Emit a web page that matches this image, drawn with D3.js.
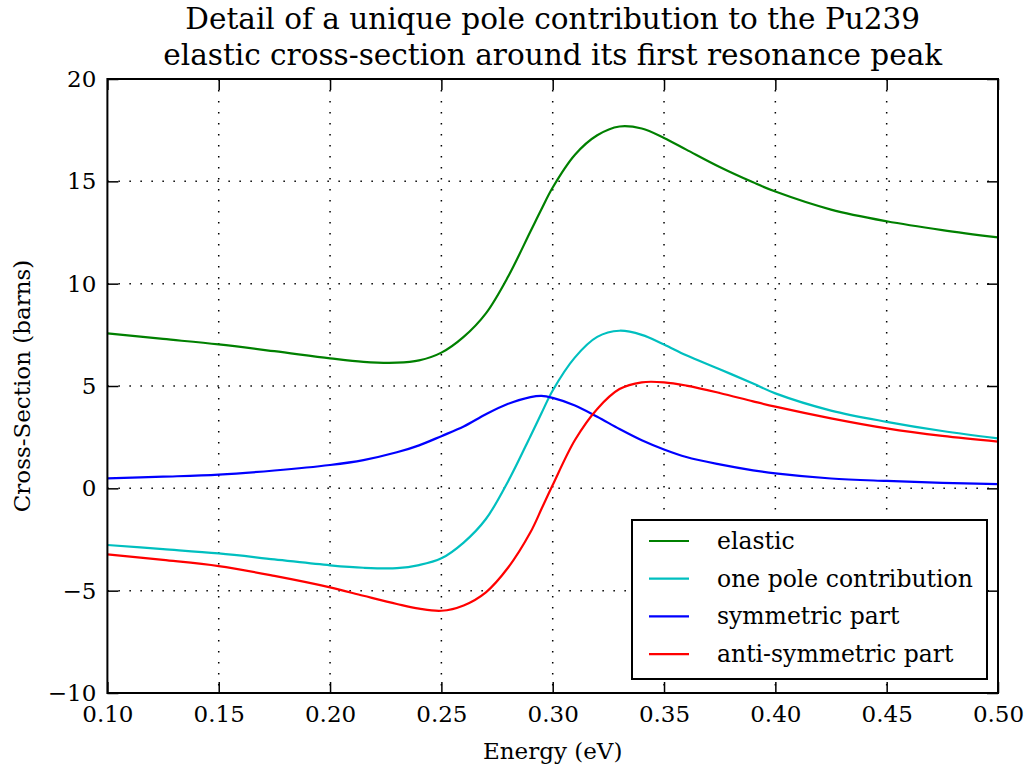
<!DOCTYPE html>
<html>
<head>
<meta charset="utf-8">
<script src="https://cdn.jsdelivr.net/npm/d3@7"></script>
<style>
    body { margin: 0; background: #ffffff; }
    text { font-family: "DejaVu Serif", serif; fill: #000000; }
</style>
</head>
<body>
<div id="chart"></div>
<script>
// Values.
var energy = [0.10, 0.125, 0.15, 0.175, 0.20, 0.215, 0.23, 0.24, 0.25, 0.26,
    0.27, 0.28, 0.29, 0.295, 0.30, 0.31, 0.32, 0.33, 0.34, 0.35, 0.36, 0.375,
    0.39, 0.40, 0.425, 0.45, 0.475, 0.50];

var elastic = [7.57, 7.30, 7.03, 6.70, 6.35, 6.18, 6.14, 6.25, 6.63, 7.40,
    8.55, 10.35, 12.55, 13.65, 14.70, 16.30, 17.25, 17.68, 17.58, 17.12, 16.55, 15.70,
    14.95, 14.50, 13.62, 13.05, 12.62, 12.26];

var onePole = [-2.77, -2.97, -3.18, -3.47, -3.76, -3.88, -3.90, -3.75, -3.42, -2.65,
    -1.50, 0.35, 2.55, 3.68, 4.78, 6.40, 7.40, 7.70, 7.50, 7.03, 6.50, 5.82,
    5.12, 4.64, 3.80, 3.25, 2.80, 2.44];

var symmetric = [0.49, 0.57, 0.67, 0.87, 1.14, 1.38, 1.76, 2.10, 2.55, 3.02,
    3.62, 4.13, 4.46, 4.52, 4.42, 4.05, 3.50, 2.90, 2.35, 1.90, 1.53, 1.17,
    0.88, 0.73, 0.48, 0.36, 0.27, 0.21];

var antiSymmetric = [-3.23, -3.50, -3.80, -4.28, -4.84, -5.25, -5.65, -5.88, -5.98, -5.72,
    -5.08, -3.87, -2.15, -1.00, 0.16, 2.36, 3.88, 4.85, 5.18, 5.18, 5.02, 4.66,
    4.25, 3.99, 3.42, 2.93, 2.56, 2.28];

var xTicks = [0.10, 0.15, 0.20, 0.25, 0.30, 0.35, 0.40, 0.45, 0.50],
    yTicks = [-10, -5, 0, 5, 10, 15, 20];

var seriesNames = ['elastic', 'one pole contribution', 'symmetric part', 'anti-symmetric part'],
    seriesColors = ['#008000', '#00bfbf', '#0000ff', '#ff0000'];

var titleLines = ['Detail of a unique pole contribution to the Pu239',
    'elastic cross-section around its first resonance peak'];

(function () {
    var width = 1027,
        height = 770,
        margin = {top: 79, right: 29, bottom: 77, left: 107.4},
        plot_w = width - margin.left - margin.right,
        plot_h = height - margin.top - margin.bottom,
        tick_len = 11,
        font = '"DejaVu Serif", serif';

    var svg = d3.select('#chart').append('svg')
        .attr('width', width)
        .attr('height', height);

    var x = d3.scaleLinear().domain([0.1, 0.5]).range([0, plot_w]),
        y = d3.scaleLinear().domain([-10, 20]).range([plot_h, 0]);

    var g = svg.append('g')
        .attr('transform', 'translate(' + margin.left + ',' + margin.top + ')');

    // Dotted grid.
    g.append('g').selectAll('line')
        .data(xTicks.slice(1, -1))
        .enter().append('line')
        .attr('x1', function (d) { return x(d); })
        .attr('x2', function (d) { return x(d); })
        .attr('y1', 0)
        .attr('y2', plot_h)
        .style('stroke', '#000')
        .style('stroke-width', 1.5)
        .style('stroke-dasharray', '1.5,9.5');

    g.append('g').selectAll('line')
        .data(yTicks.slice(1, -1))
        .enter().append('line')
        .attr('y1', function (d) { return y(d); })
        .attr('y2', function (d) { return y(d); })
        .attr('x1', 0)
        .attr('x2', plot_w)
        .style('stroke', '#000')
        .style('stroke-width', 1.5)
        .style('stroke-dasharray', '1.5,9.5');

    // Curves.
    var series = [elastic, onePole, symmetric, antiSymmetric];
    var line = d3.line()
        .x(function (d, i) { return x(energy[i]); })
        .y(function (d) { return y(d); })
        .curve(d3.curveCatmullRom.alpha(0.5));

    series.forEach(function (values, i) {
        g.append('path')
            .datum(values)
            .attr('d', line)
            .style('fill', 'none')
            .style('stroke', seriesColors[i])
            .style('stroke-width', 2.2);
    });

    // Axes: ticks point inward on all four sides.
    var fmt = d3.format('.2f');
    var bottom = g.append('g')
        .attr('transform', 'translate(0,' + plot_h + ')')
        .call(d3.axisBottom(x).tickValues(xTicks).tickFormat(fmt)
            .tickSizeInner(-tick_len).tickSizeOuter(0).tickPadding(13));
    var top = g.append('g')
        .call(d3.axisTop(x).tickValues(xTicks).tickFormat('')
            .tickSizeInner(-tick_len).tickSizeOuter(0));
    var left = g.append('g')
        .call(d3.axisLeft(y).tickValues(yTicks)
            .tickFormat(function (d) { return d < 0 ? '\u2212' + Math.abs(d) : d; })
            .tickSizeInner(-tick_len).tickSizeOuter(0).tickPadding(11));
    var right = g.append('g')
        .attr('transform', 'translate(' + plot_w + ',0)')
        .call(d3.axisRight(y).tickValues(yTicks).tickFormat('')
            .tickSizeInner(-tick_len).tickSizeOuter(0));

    [bottom, top, left, right].forEach(function (ax) {
        ax.select('.domain').remove();
        ax.selectAll('line').style('stroke', '#000').style('stroke-width', 1.5);
        ax.selectAll('text')
            .style('font-family', font)
            .style('font-size', '23px')
            .style('fill', '#000');
    });

    // Frame.
    g.append('rect')
        .attr('width', plot_w)
        .attr('height', plot_h)
        .style('fill', 'none')
        .style('stroke', '#000')
        .style('stroke-width', 2);

    // Title.
    svg.append('g').selectAll('text')
        .data(titleLines)
        .enter().append('text')
        .attr('x', margin.left + plot_w / 2)
        .attr('y', function (d, i) { return 29 + i * 36; })
        .attr('text-anchor', 'middle')
        .style('font-size', '29.5px')
        .text(function (d) { return d; });

    // Axis labels.
    svg.append('text')
        .attr('x', margin.left + plot_w / 2)
        .attr('y', 759)
        .attr('text-anchor', 'middle')
        .style('font-size', '23px')
        .text('Energy (eV)');

    svg.append('text')
        .attr('transform', 'translate(30,' + (margin.top + plot_h / 2) + ') rotate(-90)')
        .attr('text-anchor', 'middle')
        .style('font-size', '23px')
        .text('Cross-Section (barns)');

    // Legend box, lower right.
    var legend = svg.append('g')
        .attr('transform', 'translate(632,520)');

    legend.append('rect')
        .attr('width', 355)
        .attr('height', 159)
        .style('fill', '#fff')
        .style('stroke', '#000')
        .style('stroke-width', 2);

    seriesNames.forEach(function (name, i) {
        var row_y = 21 + i * 37.7;
        legend.append('line')
            .attr('x1', 17)
            .attr('x2', 57)
            .attr('y1', row_y)
            .attr('y2', row_y)
            .style('stroke', seriesColors[i])
            .style('stroke-width', 2.2);
        legend.append('text')
            .attr('x', 85)
            .attr('y', row_y + 8)
            .style('font-size', '23.5px')
            .text(name);
    });
}());
</script>
</body>
</html>
